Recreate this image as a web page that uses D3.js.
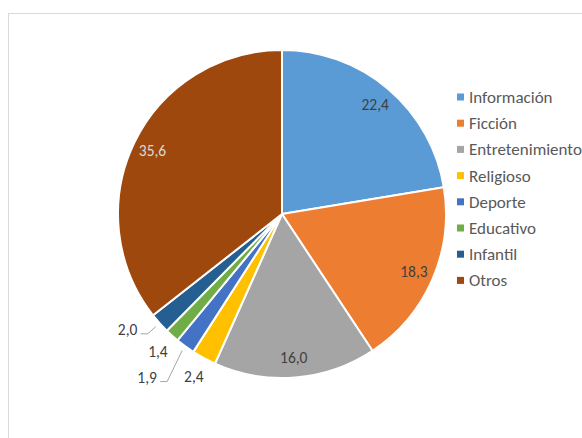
<!DOCTYPE html>
<html>
<head>
<meta charset="utf-8">
<script src="https://cdn.jsdelivr.net/npm/d3@7"></script>
<style>
  html, body { margin: 0; padding: 0; background: #fff; }
  svg { display: block; font-family: Carlito, Lato, "Open Sans", sans-serif; }
</style>
</head>
<body>
<svg id="chart" width="582" height="438"></svg>
<script>
// Audience share by programme genre (%)
const categories = ["Información", "Ficción", "Entretenimiento", "Religioso", "Deporte", "Educativo", "Infantil", "Otros"];
const values = [22.4, 18.3, 16.0, 2.4, 1.9, 1.4, 2.0, 35.6];
const valueLabels = ["22,4", "18,3", "16,0", "2,4", "1,9", "1,4", "2,0", "35,6"];
const colors = ["#5B9BD5", "#ED7D31", "#A5A5A5", "#FFC000", "#4472C4", "#70AD47", "#255E91", "#9E480E"];

const svg = d3.select("#chart");
const cx = 282, cy = 214, R = 164;

// chart frame
svg.append("rect")
  .attr("x", 8.5).attr("y", 13.5)
  .attr("width", 600).attr("height", 460)
  .attr("fill", "none").attr("stroke", "#d9d9d9").attr("stroke-width", 1);

const data = categories.map((c, i) => ({ name: c, value: values[i], label: valueLabels[i], color: colors[i] }));

const pie = d3.pie().value(d => d.value).sort(null);
const arcs = pie(data);
const arc = d3.arc().innerRadius(0).outerRadius(R);

const g = svg.append("g").attr("transform", `translate(${cx},${cy})`);

g.selectAll("path.slice")
  .data(arcs)
  .join("path")
  .attr("class", "slice")
  .attr("d", arc)
  .attr("fill", d => d.data.color)
  .attr("stroke", "#fff")
  .attr("stroke-width", 2)
  .attr("stroke-linejoin", "round");

// polar helper: angle measured clockwise from 12 o'clock
const polar = (a, r) => [Math.sin(a) * r, -Math.cos(a) * r];
const mid = d => (d.startAngle + d.endAngle) / 2;

// large slices get their value inside, small ones outside
const insideR = 144, outsideR = 185;
// small slices whose labels would collide are pushed further out / rotated
const layout = {
  "Deporte": { da: 0.058, r: 212, leader: true },
  "Infantil": { da: 0.085, r: 193, leader: true }
};

const labelG = g.append("g");
arcs.forEach(d => {
  const inside = d.data.value > 5;
  let a = mid(d), r = inside ? insideR : outsideR;
  const adj = layout[d.data.name];
  if (adj) { a += adj.da; r = adj.r; }
  const [x, y] = polar(a, r);
  labelG.append("text")
    .attr("x", x).attr("y", y)
    .attr("text-anchor", "middle")
    .attr("dy", "0.35em")
    .attr("font-size", 15.5)
    .attr("fill", d.data.name === "Otros" ? "#d9d9d9" : "#404040")
    .text(d.data.label);
  if (adj && adj.leader) {
    const w = 28;
    const [ex, ey] = polar(mid(d), R + 5);
    const lx = x + w / 2 - 1, ly = y + 4;
    labelG.append("path")
      .attr("d", `M${lx},${ly}H${lx + 7}L${ex},${ey}`)
      .attr("fill", "none")
      .attr("stroke", "#a6a6a6")
      .attr("stroke-width", 1);
  }
});

// legend
const legend = svg.append("g").attr("transform", "translate(457,97)");
const item = legend.selectAll("g")
  .data(data)
  .join("g")
  .attr("transform", (d, i) => `translate(0,${i * 26.2})`);
item.append("rect")
  .attr("x", 0).attr("y", -3.5)
  .attr("width", 7).attr("height", 7)
  .attr("fill", d => d.color);
item.append("text")
  .attr("x", 12).attr("dy", "0.35em")
  .attr("font-size", 17)
  .attr("fill", "#595959")
  .text(d => d.name);
</script>
</body>
</html>
